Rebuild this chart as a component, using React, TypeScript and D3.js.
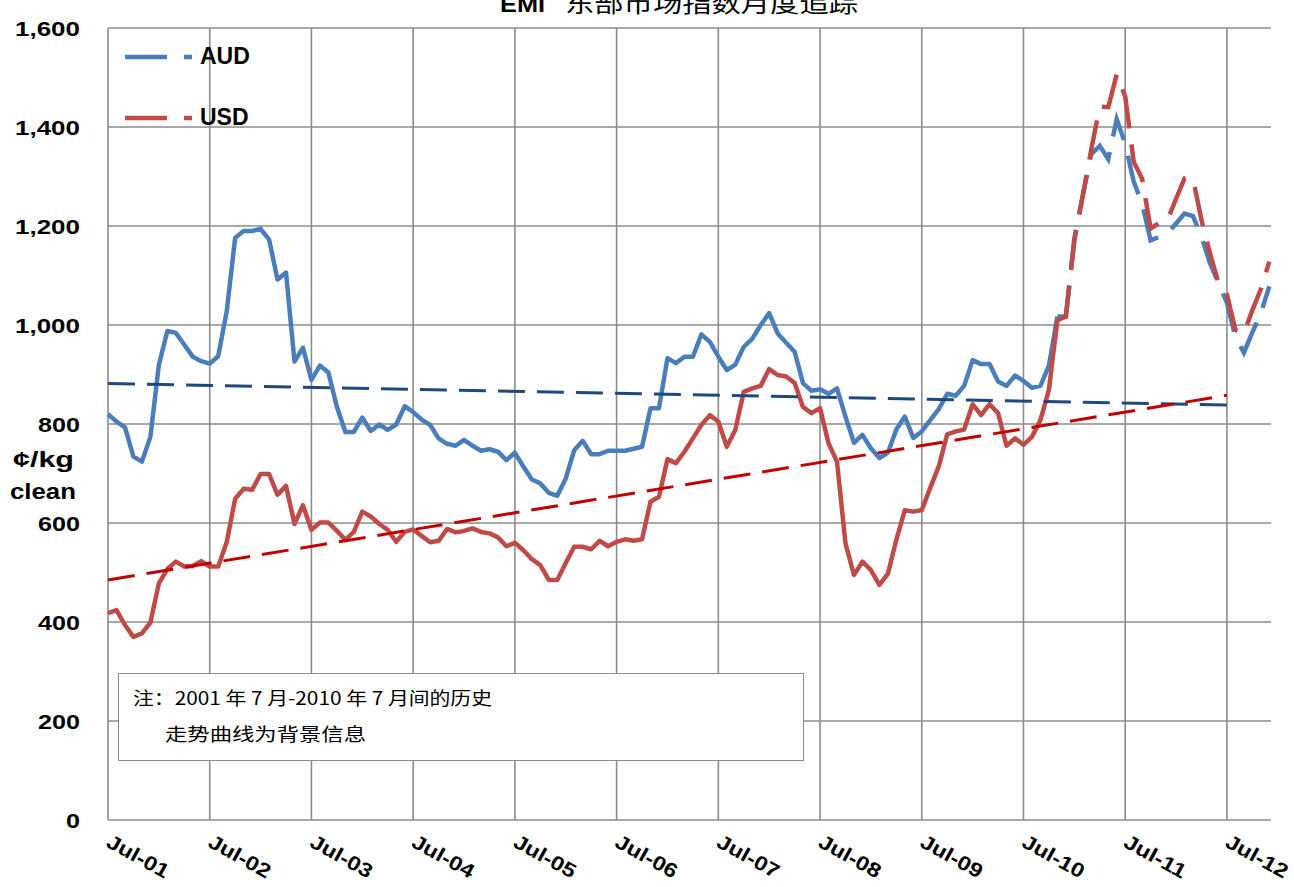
import React from "react";
import * as d3 from "d3";

const yearLabels = ["Jul-01","Jul-02","Jul-03","Jul-04","Jul-05","Jul-06","Jul-07","Jul-08","Jul-09","Jul-10","Jul-11","Jul-12"];
const yTicks = [0, 200, 400, 600, 800, 1000, 1200, 1400, 1600];

// monthly values, index 0 = Jul-01
const audValues = [
  820, 805, 793, 734, 724, 774, 919, 988, 984, 960, 936, 927,
  922, 937, 1027, 1176, 1190, 1190, 1194, 1173, 1092, 1106, 926, 954,
  889, 918, 904, 835, 784, 784, 813, 786, 799, 788, 799, 836,
  824, 809, 798, 771, 760, 756, 768, 756, 746, 749, 744, 727,
  742, 714, 688, 680, 661, 655, 690, 747, 766, 739, 739, 746,
  746, 746, 750, 754, 832, 832, 933, 923, 936, 936, 981, 966,
  936, 909, 920, 956, 972, 1000, 1024, 983, 964, 946, 882, 867,
  870, 861, 872, 815, 762, 778, 751, 731, 742, 789, 815, 772,
  785, 808, 830, 861, 857, 877, 929, 921, 921, 886, 877, 898,
  887, 873, 877, 918, 1017, 1017, 1175, 1262, 1345, 1362, 1335, 1416,
  1366, 1290, 1245, 1171, 1178, 1185, 1205, 1225, 1220, 1178, 1125, 1085,
  1045, 976, 944, 985, 1024, 1078
];
const usdValues = [
  418, 424, 394, 370, 377, 399, 478, 507, 522, 512, 513, 523,
  512, 512, 561, 649, 669, 667, 699, 699, 657, 675, 598, 636,
  586, 601, 601, 584, 566, 582, 623, 613, 598, 586, 562, 582,
  587, 574, 561, 564, 588, 581, 584, 589, 582, 579, 571, 553,
  560, 545, 527, 515, 485, 485, 519, 552, 552, 547, 564, 553,
  562, 567, 564, 567, 643, 653, 729, 721, 744, 771, 798, 818,
  805, 754, 788, 865, 872, 877, 911, 899, 896, 883, 834, 822,
  832, 761, 724, 559, 495, 522, 505, 475, 497, 566, 626, 623,
  626, 671, 714, 779, 785, 789, 840, 818, 840, 822, 756, 771,
  758, 774, 808, 869, 1010, 1017, 1170, 1262, 1355, 1441, 1440, 1506,
  1462, 1330, 1295, 1195, 1206, 1212, 1255, 1296, 1296, 1212, 1145, 1085,
  1062, 990, 983, 1030, 1072, 1128
];
const dashedFrom = 112; // recent months drawn dashed

// linear trend lines: [month index, value]
const audTrend: [number, number][] = [[0, 882], [133, 838]];
const usdTrend: [number, number][] = [[0, 485], [132, 858]];

const seriesNames = ["AUD", "USD"];
const noteLines = ["注：2001 年 7 月-2010 年 7 月间的历史", "走势曲线为背景信息"];
const titleBold = "EMI";
const titleRest = "东部市场指数月度追踪";

const W = 1294, H = 887;
const M = { left: 108, right: 1271, top: 28, bottom: 820 };

export default function App() {
  const x = d3.scaleLinear().domain([0, 137.2]).range([M.left, M.right]);
  const y = d3.scaleLinear().domain([0, 1600]).range([M.bottom, M.top]);
  const line = d3.line<[number, number]>().x(d => x(d[0])).y(d => y(d[1]));

  const toPts = (arr: number[], from: number, to: number) =>
    arr.slice(from, to).map((v, k) => [from + k, v] as [number, number]);

  const audSolid = line(toPts(audValues, 0, dashedFrom + 1)) || "";
  const audDash = line(toPts(audValues, dashedFrom, audValues.length)) || "";
  const usdSolid = line(toPts(usdValues, 0, dashedFrom + 1)) || "";
  const usdDash = line(toPts(usdValues, dashedFrom, usdValues.length)) || "";

  const blue = "#4A7EBB";
  const red = "#BE4B48";
  const grid = "#8C8C8C";
  const font = "'Liberation Sans', Arial, sans-serif";
  const cjk = "'Noto Sans CJK SC', sans-serif";

  const yearTicks = yearLabels.map((_, i) => i * 12);

  return (
    <svg width={W} height={H} style={{ position: "absolute", left: 0, top: 0, background: "#fff" }}>
      <rect x={0} y={0} width={W} height={H} fill="#fff" />
      {/* horizontal gridlines */}
      {yTicks.map(t => (
        <line key={"h" + t} x1={M.left} x2={M.right} y1={y(t)} y2={y(t)} stroke={grid} strokeWidth={1.6} />
      ))}
      {/* vertical gridlines */}
      {yearTicks.map(t => (
        <line key={"v" + t} x1={x(t)} x2={x(t)} y1={M.top} y2={M.bottom} stroke={grid} strokeWidth={1.6} />
      ))}
      {/* y tick labels */}
      {yTicks.map(t => {
        const s = d3.format(",")(t);
        return (
          <text key={"yl" + t} x={80} y={y(t) + 8} textAnchor="end" fontFamily={font} fontWeight="bold"
            fontSize={21} textLength={s.length * 14 + (s.includes(",") ? -5 : 0)} lengthAdjust="spacingAndGlyphs">{s}</text>
        );
      })}
      {/* x tick labels */}
      {yearLabels.map((s, i) => (
        <text key={"xl" + i} transform={`translate(${x(yearTicks[i]) - 3},${846}) rotate(29)`}
          fontFamily={font} fontWeight="bold" fontSize={20} textLength={68} lengthAdjust="spacingAndGlyphs">{s}</text>
      ))}
      {/* y axis title */}
      <text x={13} y={467} fontFamily={font} fontWeight="bold" fontSize={22} textLength={61} lengthAdjust="spacingAndGlyphs">¢/kg</text>
      <text x={10} y={499} fontFamily={font} fontWeight="bold" fontSize={22} textLength={66} lengthAdjust="spacingAndGlyphs">clean</text>
      {/* title (partly above the top edge, as in the source) */}
      <text x={500} y={12} fontFamily={font} fontWeight="bold" fontSize={22} textLength={45} lengthAdjust="spacingAndGlyphs">{titleBold}</text>
      <text x={565} y={12} fontFamily={cjk} fontSize={24} textLength={293} lengthAdjust="spacingAndGlyphs">{titleRest}</text>

      {/* series */}
      <path d={audSolid} fill="none" stroke={blue} strokeWidth={4.5} strokeLinejoin="round" />
      <path d={audDash} fill="none" stroke={blue} strokeWidth={4.5} strokeDasharray="40 16" />
      <path d={usdSolid} fill="none" stroke={red} strokeWidth={4.5} strokeLinejoin="round" />
      <path d={usdDash} fill="none" stroke={red} strokeWidth={4.5} strokeDasharray="40 16" />

      {/* trend lines */}
      <path d={line(audTrend) || ""} fill="none" stroke="#1F497D" strokeWidth={3} strokeDasharray="27 12" />
      <path d={line(usdTrend) || ""} fill="none" stroke="#C00000" strokeWidth={3} strokeDasharray="27 12" />

      {/* legend */}
      {seriesNames.map((n, i) => {
        const ly = i === 0 ? 57 : 118;
        const c = i === 0 ? blue : red;
        return (
          <g key={n}>
            <line x1={125} x2={192} y1={ly} y2={ly} stroke={c} strokeWidth={4.5} strokeDasharray="42 17" />
            <text x={200} y={ly + 7} fontFamily={font} fontWeight="bold" fontSize={23}>{n}</text>
          </g>
        );
      })}

      {/* note box */}
      <rect x={118.5} y={673.5} width={685} height={87} fill="#fff" stroke={grid} strokeWidth={1} />
      <text x={133} y={705} fontFamily={cjk} fontSize={18} textLength={359} lengthAdjust="spacingAndGlyphs">{noteLines[0]}</text>
      <text x={165} y={741} fontFamily={cjk} fontSize={18} textLength={201} lengthAdjust="spacingAndGlyphs">{noteLines[1]}</text>
    </svg>
  );
}
